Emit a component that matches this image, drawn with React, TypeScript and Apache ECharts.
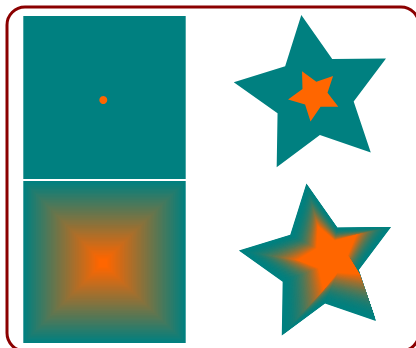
import React, { useEffect, useRef } from "react";
import * as echarts from "echarts";

// Colours of the two shapes that are blended
const fromColor = [0, 128, 128]; // teal
const toColor = [255, 102, 0]; // orange
const frameColor = "#8B0000";

// Star geometry: outer radius, inner radius, rotation of first tip (deg)
const bigStar = [81, 40.5, -98.8];
const smallStar = [26.7, 13.3, -117.6];
const blendTargetStar = [34, 17, -113];
// Square side / target dot radius
const squareSide = [163, 162];
const dotRadius = [4];
// Number of intermediate shapes in each blend
const blendSteps = [60];
// colour easing exponent for the star blend
const starColorEase = [2];

const W = 416;
const H = 348;

function lerp(a: number, b: number, t: number) {
  return a + (b - a) * t;
}
function mix(t: number) {
  const c = fromColor.map((v, i) => Math.round(lerp(v, toColor[i], t)));
  return `rgb(${c[0]},${c[1]},${c[2]})`;
}
function starPoints(cx: number, cy: number, spec: number[]) {
  const [R, r, rot] = spec;
  const pts: number[][] = [];
  for (let i = 0; i < 10; i++) {
    const a = ((rot + i * 36) * Math.PI) / 180;
    const rad = i % 2 === 0 ? R : r;
    pts.push([cx + rad * Math.cos(a), cy + rad * Math.sin(a)]);
  }
  return pts;
}

export default function App() {
  const ref = useRef<HTMLDivElement>(null);
  useEffect(() => {
    if (!ref.current) return;
    const chart = echarts.init(ref.current, null, { renderer: "svg" });
    const els: any[] = [];
    const teal = mix(0);
    const orange = mix(1);

    // frame
    els.push({
      type: "rect",
      shape: { x: 7, y: 7, width: 412, height: 344, r: 18 },
      style: { fill: "none", stroke: frameColor, lineWidth: 3 },
    });

    // top-left: plain square with dot
    els.push({
      type: "rect",
      shape: { x: 23.3, y: 16, width: squareSide[0] - 0.6, height: squareSide[0] },
      style: { fill: teal },
    });
    els.push({
      type: "circle",
      shape: { cx: 103.3, cy: 100, r: dotRadius[0] },
      style: { fill: orange },
    });

    // bottom-left: blended square -> dot
    const n = blendSteps[0];
    const sx = 23.3, sy = 181, sw = squareSide[1] + 0.4, sh = squareSide[1];
    const tx = 103, ty = 263;
    for (let i = 0; i <= n; i++) {
      const t = i / n;
      const x0 = lerp(sx, tx - dotRadius[0], t);
      const y0 = lerp(sy, ty - dotRadius[0], t);
      const x1 = lerp(sx + sw, tx + dotRadius[0], t);
      const y1 = lerp(sy + sh, ty + dotRadius[0], t);
      els.push({
        type: "rect",
        shape: { x: x0, y: y0, width: x1 - x0, height: y1 - y0 },
        style: { fill: mix(t) },
      });
    }

    // top-right: star with small star
    els.push({
      type: "polygon",
      shape: { points: starPoints(313.7, 95.1, bigStar) },
      style: { fill: teal },
    });
    els.push({
      type: "polygon",
      shape: { points: starPoints(314.4, 95, smallStar) },
      style: { fill: orange },
    });

    // bottom-right: blended star -> star
    const outer = starPoints(318.8, 263.5, bigStar);
    const inner = starPoints(331, 257, blendTargetStar);
    for (let i = 0; i <= n; i++) {
      const t = i / n;
      const pts = outer.map((p, k) => [lerp(p[0], inner[k][0], t), lerp(p[1], inner[k][1], t)]);
      els.push({
        type: "polygon",
        shape: { points: pts },
        style: { fill: mix(Math.pow(t, starColorEase[0])) },
      });
    }

    chart.setOption({
      animation: false,
      backgroundColor: "#ffffff",
      graphic: { elements: els },
    });
    return () => chart.dispose();
  }, []);
  return (
    <div
      ref={ref}
      style={{ position: "fixed", left: 0, top: 0, width: W, height: H }}
    />
  );
}
